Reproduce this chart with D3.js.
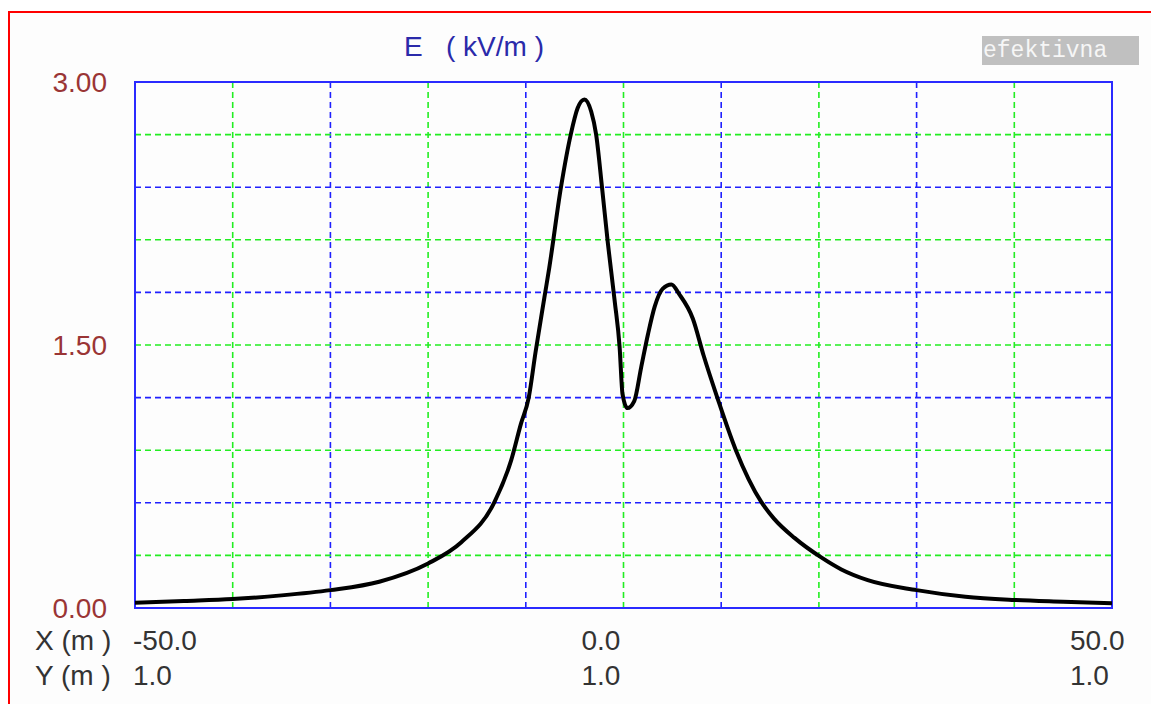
<!DOCTYPE html>
<html>
<head>
<meta charset="utf-8">
<script src="https://cdn.jsdelivr.net/npm/d3@7"></script>
<style>
  html, body { margin: 0; padding: 0; background: #ffffff; }
  svg { display: block; }
  text { font-family: "Liberation Sans", Arial, sans-serif; }
</style>
</head>
<body>
<script>
// Electric field profile E (kV/m) along X at height Y = 1.0 m
const xPositions = [-50, -45, -40, -35, -30, -25, -20, -16.6, -13.2, -11.5, -10.5, -9.7, -9.0, -8.1, -7.6,
  -6.4, -5.4, -4.7, -4.0, -3.3, -2.8, -2.2, -1.6, -0.9, -0.4, -0.1, 0.4, 1.1, 1.8, 2.5, 3.2, 4.0, 4.9,
  5.7, 7.1, 8.2, 9.6, 11.5, 14.1, 15.4, 17.5, 20.2, 22.3, 25, 30, 35, 40, 45, 50];
const fieldValues = [0.030, 0.040, 0.051, 0.072, 0.102, 0.150, 0.254, 0.375, 0.605, 0.842, 1.05, 1.20, 1.46, 1.77, 1.94,
  2.40, 2.70, 2.85, 2.90, 2.83, 2.70, 2.40, 2.08, 1.75, 1.49, 1.22, 1.14, 1.18, 1.37, 1.56, 1.72, 1.82, 1.845,
  1.79, 1.65, 1.44, 1.20, 0.90, 0.605, 0.51, 0.40, 0.29, 0.22, 0.159, 0.102, 0.064, 0.046, 0.036, 0.027];

const yTickLabels = [[3.0, "3.00"], [1.5, "1.50"], [0.0, "0.00"]];
const xLabels = ["-50.0", "0.0", "50.0"];
const xLabelAt = [-50, 0, 50];
const yLabels = ["1.0", "1.0", "1.0"];
const gridX = [-40, -30, -20, -10, 0, 10, 20, 30, 40];
const gridY = [2.7, 2.4, 2.1, 1.8, 1.5, 1.2, 0.9, 0.6, 0.3];
const titleText = "E   ( kV/m )";
const modeText = "efektivna";

const W = 1151, H = 704;
const plot = { left: 135, right: 1112, top: 82, bottom: 608 };

const svg = d3.select("body").append("svg").attr("width", W).attr("height", H);

// frame
svg.append("rect").attr("width", W).attr("height", H).attr("fill", "#ffffff");
svg.append("rect").attr("x", 9).attr("y", 12).attr("width", W + 20).attr("height", H + 20)
  .attr("fill", "#fdfdfd").attr("stroke", "#ff0000").attr("stroke-width", 2);

const x = d3.scaleLinear().domain([-50, 50]).range([plot.left, plot.right]);
const y = d3.scaleLinear().domain([0, 3]).range([plot.bottom, plot.top]);

// dashed grid: alternating green / blue
const gridColor = (i) => (i % 2 === 0 ? "#22ee22" : "#2020ff");
svg.append("g").selectAll("line").data(gridX).join("line")
  .attr("x1", d => x(d)).attr("x2", d => x(d))
  .attr("y1", plot.top).attr("y2", plot.bottom)
  .attr("stroke", (d, i) => gridColor(i)).attr("stroke-width", 1.6)
  .attr("stroke-dasharray", "6,4");
svg.append("g").selectAll("line").data(gridY).join("line")
  .attr("y1", d => y(d)).attr("y2", d => y(d))
  .attr("x1", plot.left).attr("x2", plot.right)
  .attr("stroke", (d, i) => gridColor(i)).attr("stroke-width", 1.6)
  .attr("stroke-dasharray", "6,4");

// plot border
svg.append("rect").attr("x", plot.left).attr("y", plot.top)
  .attr("width", plot.right - plot.left).attr("height", plot.bottom - plot.top)
  .attr("fill", "none").attr("stroke", "#2a2aff").attr("stroke-width", 2);

// field curve
const pts = xPositions.map((d, i) => [d, fieldValues[i]]);
const line = d3.line().x(d => x(d[0])).y(d => y(d[1])).curve(d3.curveMonotoneX);
svg.append("path").datum(pts).attr("d", line)
  .attr("fill", "none").attr("stroke", "#000000").attr("stroke-width", 4)
  .attr("stroke-linejoin", "round");

// y tick labels
svg.append("g").selectAll("text").data(yTickLabels).join("text")
  .attr("x", 107).attr("y", d => y(d[0])).attr("dy", "0.36em")
  .attr("text-anchor", "end").attr("font-size", 28).attr("fill", "#9a3535")
  .text(d => d[1]);

// title
svg.append("text").attr("x", 404).attr("y", 56).attr("font-size", 28)
  .attr("fill", "#2a2aaa").style("white-space", "pre").attr("xml:space", "preserve")
  .text(titleText);

// mode box
svg.append("rect").attr("x", 982).attr("y", 36).attr("width", 157).attr("height", 29).attr("fill", "#c0c0c0");
svg.append("text").attr("x", 983).attr("y", 57).attr("font-size", 23)
  .style("font-family", "'Liberation Mono', 'Courier New', monospace")
  .attr("fill", "#f6f6f6").text(modeText);

// bottom labels
const labelX = (v, i) => (i === 0 ? x(v) - 2 : x(v) - 42);
svg.append("text").attr("x", 35).attr("y", 650).attr("font-size", 28).attr("fill", "#333333")
  .style("white-space", "pre").attr("xml:space", "preserve").text("X (m )");
svg.append("text").attr("x", 35).attr("y", 685).attr("font-size", 28).attr("fill", "#333333")
  .style("white-space", "pre").attr("xml:space", "preserve").text("Y (m )");
svg.append("g").selectAll("text").data(xLabels).join("text")
  .attr("x", (d, i) => labelX(xLabelAt[i], i)).attr("y", 650)
  .attr("font-size", 28).attr("fill", "#333333").text(d => d);
svg.append("g").selectAll("text").data(yLabels).join("text")
  .attr("x", (d, i) => labelX(xLabelAt[i], i)).attr("y", 685)
  .attr("font-size", 28).attr("fill", "#333333").text(d => d);
</script>
</body>
</html>
